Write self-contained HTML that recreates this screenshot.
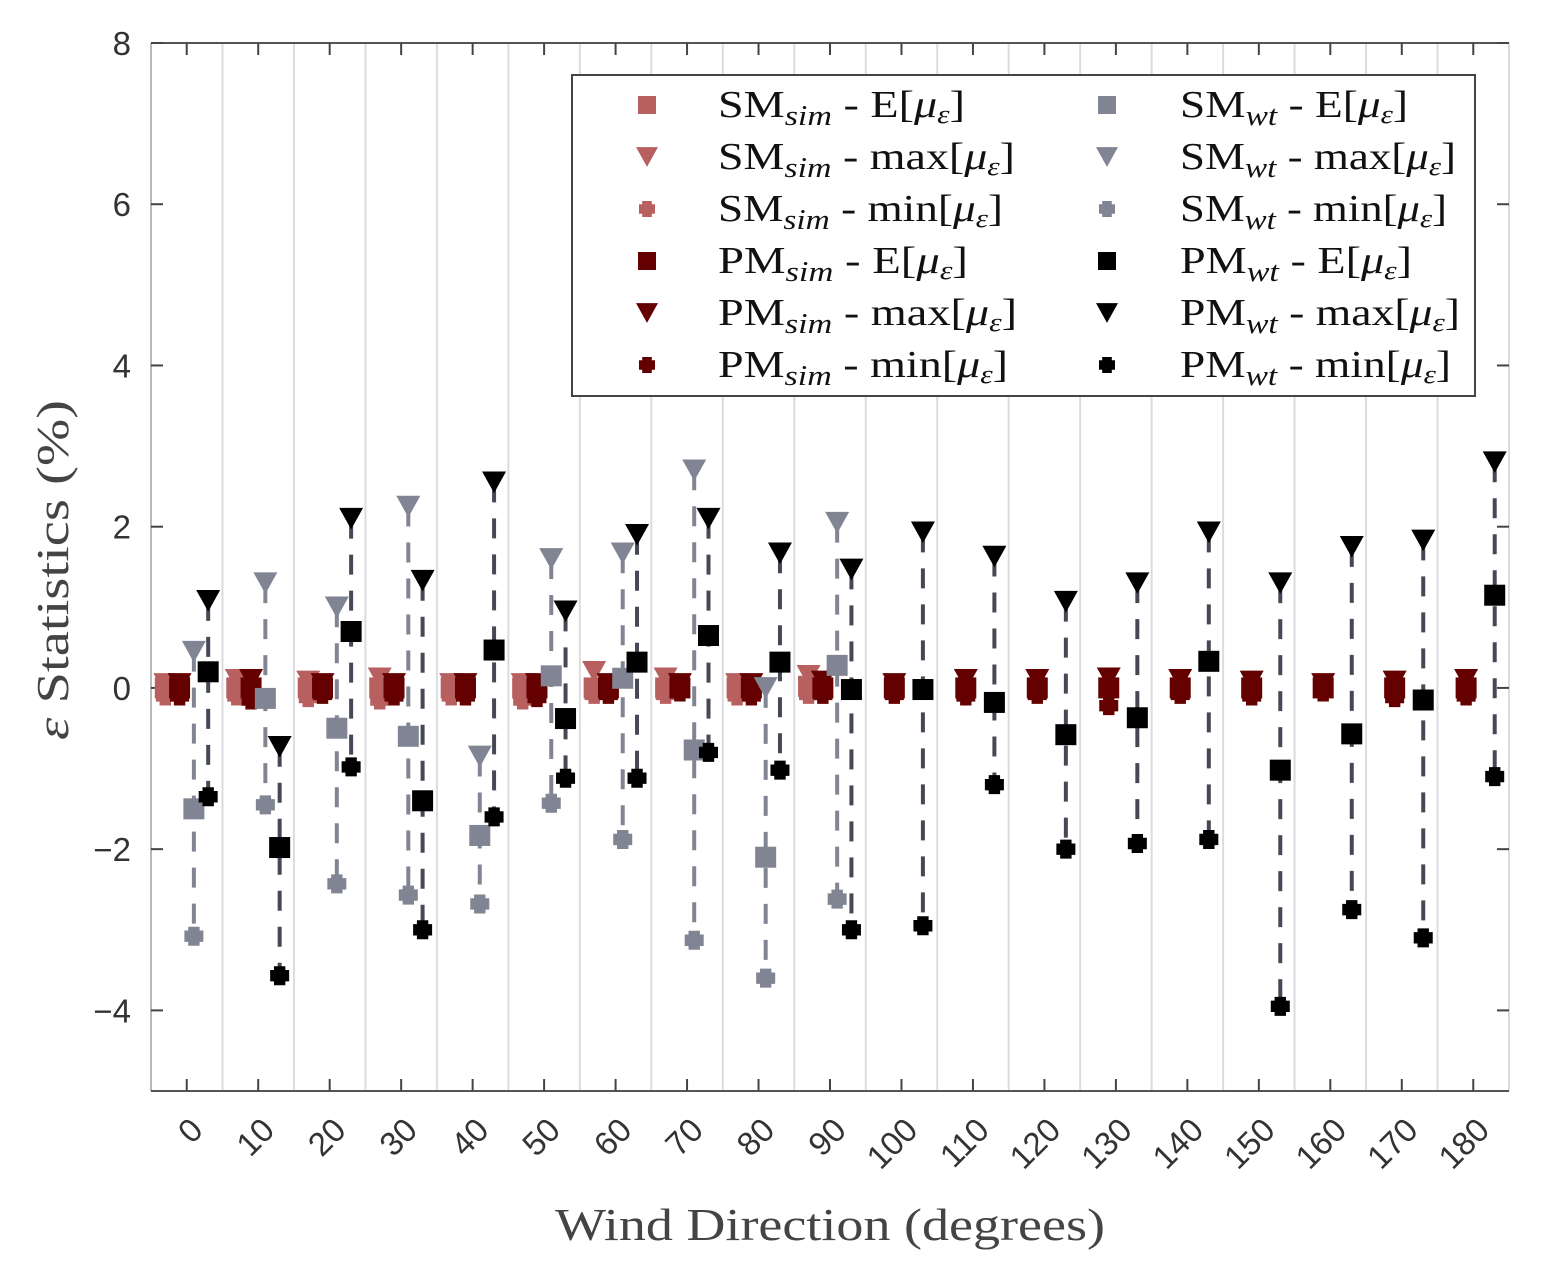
<!DOCTYPE html>
<html><head><meta charset="utf-8"><style>
html,body{margin:0;padding:0;background:#fff;}
svg{display:block;}
.tk{font-family:"Liberation Sans",sans-serif;font-size:33px;fill:#333;}
.lg{font-family:"Liberation Serif",serif;font-size:38px;fill:#111;}
.ax{font-family:"Liberation Serif",serif;font-size:46px;fill:#444;}
</style></head><body>
<svg id="chart" width="1545" height="1276" viewBox="0 0 1545 1276" xmlns="http://www.w3.org/2000/svg">
<g id="grid"></g>
<g id="axes"></g>
<g id="marks"></g>
<text class="ax" x="555" y="1240" textLength="550" lengthAdjust="spacingAndGlyphs">Wind Direction (degrees)</text>
<text class="ax" transform="translate(68,740) rotate(-90)" textLength="340" lengthAdjust="spacingAndGlyphs"><tspan font-style="italic">ε</tspan> Statistics (%)</text>
<g id="legend"></g>
</svg>
<script>
const categories=[0,10,20,30,40,50,60,70,80,90,100,110,120,130,140,150,160,170,180];
const yTicks=[-4,-2,0,2,4,6,8];
const smSimE=[0,0,0,0,0,0,0,0,0,0.02];
const smSimMax=[0.05,0.1,0.08,0.12,0.05,0.05,0.2,0.12,0.05,0.15];
const smSimMin=[-0.1,-0.1,-0.12,-0.15,-0.1,-0.15,-0.08,-0.08,-0.1,-0.08];
const pmSimE=[0,0,0,0,0,0,0,0,0,0,0,0,0,0,0,0,0,0,0];
const pmSimMax=[0.05,0.1,0.05,0.05,0.05,0.05,0.05,0.05,0.05,0.08,0.05,0.1,0.1,0.12,0.1,0.08,0.05,0.08,0.1];
const pmSimMin=[-0.1,-0.15,-0.08,-0.1,-0.1,-0.12,-0.08,-0.05,-0.1,-0.08,-0.08,-0.1,-0.08,-0.22,-0.08,-0.1,-0.05,-0.12,-0.1];
const smWtE=[-1.5,-0.13,-0.5,-0.6,-1.83,0.15,0.12,-0.77,-2.1,0.28];
const smWtMax=[0.45,1.3,1.0,2.25,-0.85,1.6,1.67,2.7,0.0,2.05];
const smWtMin=[-3.08,-1.45,-2.43,-2.57,-2.68,-1.43,-1.88,-3.13,-3.6,-2.62];
const pmWtE=[0.2,-1.98,0.7,-1.4,0.47,-0.38,0.32,0.65,0.32,-0.02,-0.02,-0.18,-0.58,-0.37,0.33,-1.02,-0.57,-0.15,1.15];
const pmWtMax=[1.08,-0.73,2.1,1.33,2.55,0.95,1.9,2.1,1.67,1.47,1.93,1.63,1.07,1.3,1.93,1.3,1.75,1.83,2.8];
const pmWtMin=[-1.35,-3.57,-0.98,-3.0,-1.6,-1.12,-1.12,-0.8,-1.02,-3.0,-2.95,-1.2,-2.0,-1.93,-1.88,-3.95,-2.75,-3.1,-1.1];

const NS='http://www.w3.org/2000/svg';
const L=151,R=1509,T=43,B=1091;
const X=v=>L+(v+5)/190*(R-L);
const Y=v=>B-(v+5)/13*(B-T);
function mk(tag,attrs,parent){const e=document.createElementNS(NS,tag);for(const k in attrs)e.setAttribute(k,attrs[k]);parent.appendChild(e);return e;}
const grid=document.getElementById('grid'),axes=document.getElementById('axes'),marks=document.getElementById('marks'),legend=document.getElementById('legend');

for(let i=0;i<=categories.length;i++){
  const gx=X(categories[0]-5+i*10);
  const l=mk('line',{x1:gx,x2:gx,y1:T,y2:B,stroke:'#dcdce0','stroke-width':2},grid);
  
  
}
let a=mk('line',{x1:L,x2:L,y1:T,y2:B,stroke:'#b8b8b8','stroke-width':2},axes);

a=mk('line',{x1:L,x2:R,y1:B,y2:B,stroke:'#555','stroke-width':2},axes);

a=mk('line',{x1:L,x2:R,y1:T,y2:T,stroke:'#555','stroke-width':2},axes);

yTicks.forEach(v=>{
  const y=Y(v);
  mk('line',{x1:L,x2:L+12,y1:y,y2:y,stroke:'#444','stroke-width':2},axes);
  mk('line',{x1:R-12,x2:R,y1:y,y2:y,stroke:'#444','stroke-width':2},axes);
  const t=mk('text',{x:L-20,y:y+12,'text-anchor':'end',class:'tk'},axes);
  t.textContent=(v<0?'\u2212':'')+Math.abs(v);
  
  
});
categories.forEach(c=>{
  const x=X(c);
  mk('line',{x1:x,x2:x,y1:B,y2:B-12,stroke:'#444','stroke-width':2},axes);
  mk('line',{x1:x,x2:x,y1:T,y2:T+12,stroke:'#444','stroke-width':2},axes);
  const t=mk('text',{transform:`translate(${x+18},${1132}) rotate(-45)`,'text-anchor':'end',class:'tk'},axes);
  t.textContent=c;
  
  
});

function square(x,y,s,col,p){mk('rect',{x:x-s/2,y:y-s/2,width:s,height:s,fill:col},p);}
function tri(x,y,s,col,p){mk('path',{d:`M${x-s/2},${y-s*0.45}L${x+s/2},${y-s*0.45}L${x},${y+s*0.45}Z`,fill:col},p);}
function plus(x,y,s,col,p){const h=s/2,w=s*0.3;mk('path',{d:`M${x-w},${y-h}h${2*w}v${h-w}h${h-w}v${2*w}h${-(h-w)}v${h-w}h${-2*w}v${-(h-w)}h${-(h-w)}v${-2*w}h${h-w}Z`,fill:col},p);mk('circle',{cx:x,cy:y,r:s*0.4,fill:col},p);}

const series=[
 {name:'sm-sim',off:-3,E:smSimE,Mx:smSimMax,Mn:smSimMin,col:'#b86060',line:'#b86060'},
 {name:'pm-sim',off:-1,E:pmSimE,Mx:pmSimMax,Mn:pmSimMin,col:'#640000',line:'#640000'},
 {name:'sm-wt',off:1,E:smWtE,Mx:smWtMax,Mn:smWtMin,col:'#818593',line:'#818593'},
 {name:'pm-wt',off:3,E:pmWtE,Mx:pmWtMax,Mn:pmWtMin,col:'#000',line:'#464955'}
];
series.forEach(s=>{
  const g=mk('g',{},marks);
  
  
  s.E.forEach((e,i)=>{
    const x=X(categories[i]+s.off);
    const ln=mk('line',{x1:x,x2:x,y1:Y(s.Mx[i]),y2:Y(s.Mn[i]),stroke:s.line,'stroke-width':4,'stroke-dasharray':'20 16'},g);
    
    
    plus(x,Y(s.Mn[i]),19,s.col,g);
    square(x,Y(e),21,s.col,g);
    tri(x,Y(s.Mx[i]),24,s.col,g);
  });
});

const box=mk('rect',{x:572,y:75,width:903,height:321,fill:'#fff',stroke:'#444','stroke-width':2},legend);

const items=[
 ['SM','sim','E','#b86060','sq',247],['SM','sim','max','#b86060','tri',297],['SM','sim','min','#b86060','plus',285],
 ['PM','sim','E','#640000','sq',250],['PM','sim','max','#640000','tri',299],['PM','sim','min','#640000','plus',290],
 ['SM','wt','E','#818593','sq',228],['SM','wt','max','#818593','tri',276],['SM','wt','min','#818593','plus',267],
 ['PM','wt','E','#000','sq',232],['PM','wt','max','#000','tri',280],['PM','wt','min','#000','plus',271]
];
items.forEach((it,k)=>{
  const col=k<6?0:1,row=k%6;
  const mx=col?1107:647,tx=col?1180:718,y=105+row*52;
  const g=mk('g',{},legend);
  
  
  if(it[4]==='sq')square(mx,y,18,it[3],g);else if(it[4]==='tri')tri(mx,y,22,it[3],g);else plus(mx,y,16,it[3],g);
  const t=mk('text',{x:tx,y:y+12,class:'lg',textLength:it[5],lengthAdjust:'spacingAndGlyphs'},g);
  t.innerHTML=`${it[0]}<tspan font-style="italic" font-size="28" dy="8">${it[1]}</tspan><tspan dy="-8"> - ${it[2]}[</tspan><tspan font-style="italic">μ</tspan><tspan font-style="italic" font-size="26" dy="6">ε</tspan><tspan dy="-6">]</tspan>`;
});
</script>
</body></html>
